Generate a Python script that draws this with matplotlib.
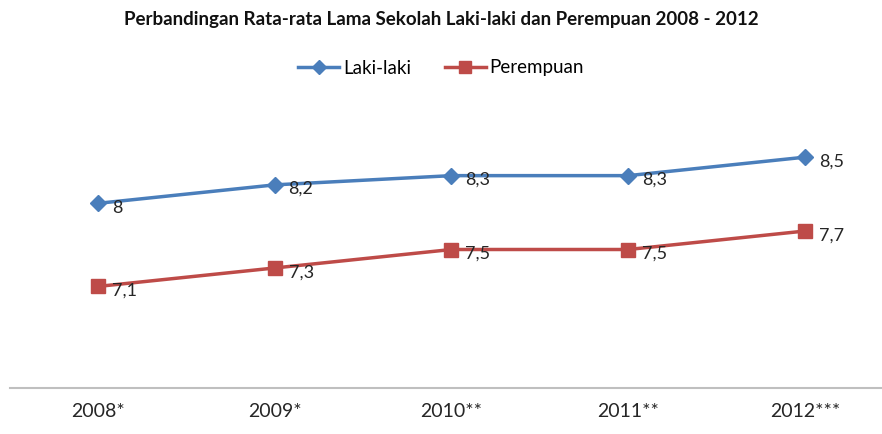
import matplotlib
matplotlib.use("Agg")
import matplotlib.pyplot as plt

categories = ["2008*", "2009*", "2010**", "2011**", "2012***"]
laki = [8.0, 8.2, 8.3, 8.3, 8.5]
perempuan = [7.1, 7.3, 7.5, 7.5, 7.7]
laki_labels = ["8", "8,2", "8,3", "8,3", "8,5"]
per_labels = ["7,1", "7,3", "7,5", "7,5", "7,7"]

plt.rcParams['font.family'] = ['Lato', 'DejaVu Sans']

fig = plt.figure(figsize=(8.82, 4.34), dpi=100)
ax = fig.add_axes([9.6/882, 1-388/434, 5*176.75/882, 277/434])
x = list(range(len(categories)))
blue = "#4A7EBB"
red = "#BE4B48"
l1, = ax.plot(x, laki, color=blue, lw=2.5, marker="D", ms=8.5, label="Laki-laki")
l2, = ax.plot(x, perempuan, color=red, lw=2.5, marker="s", ms=10.5, label="Perempuan")

for xi, v, t in zip(x, laki, laki_labels):
    ax.annotate(t, (xi, v), xytext=(10, -3), textcoords="offset points",
                ha="left", va="center", fontsize=13, color="#262626")
for xi, v, t in zip(x, perempuan, per_labels):
    ax.annotate(t, (xi, v), xytext=(10, -3), textcoords="offset points",
                ha="left", va="center", fontsize=13, color="#262626")

ax.set_xlim(-0.5, 4.5)
ax.set_ylim(6, 9)
ax.set_xticks(x)
ax.set_xticklabels(categories, fontsize=14, color="#262626")
ax.set_yticks([])
ax.tick_params(axis="x", length=0, pad=11)
for s in ["top", "right", "left"]:
    ax.spines[s].set_visible(False)
ax.spines["bottom"].set_color("#BFBFBF")
ax.spines["bottom"].set_linewidth(1.5)

fig.text(0.5, 1-20/434, "Perbandingan Rata-rata Lama Sekolah Laki-laki dan Perempuan 2008 - 2012",
         ha="center", va="center", fontsize=13.5, fontweight="bold", color="#111111")
fig.legend(handles=[l1, l2], loc="center", bbox_to_anchor=(0.5, 1-68/434), ncol=2,
           frameon=False, fontsize=13.5, handlelength=2.2, handletextpad=0.2,
           columnspacing=1.8, markerscale=0.8)

fig.savefig("out.png", dpi=100)
